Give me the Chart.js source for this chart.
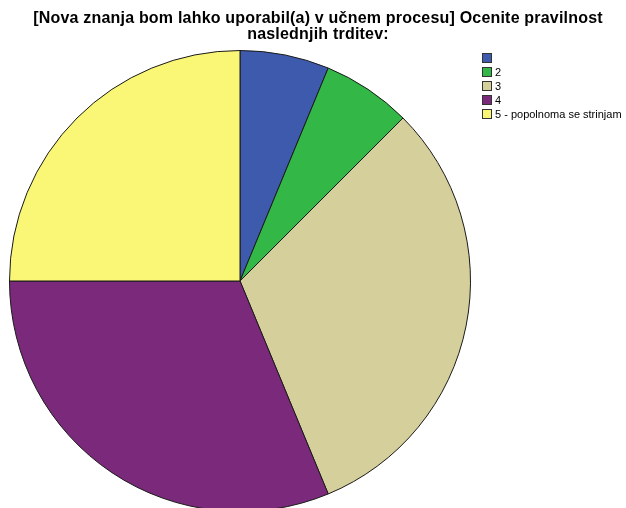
<!DOCTYPE html>
<html>
<head>
<meta charset="utf-8">
<script src="https://cdn.jsdelivr.net/npm/chart.js@4"></script>
<style>
  html, body { margin: 0; padding: 0; background: #fff; overflow: hidden; }
  #wrap { width: 626px; height: 520px; }
</style>
</head>
<body>
<div id="wrap"><canvas id="pie"></canvas></div>
<script>
// data (counts out of 16)
const categories = ['', '2', '3', '4', '5 - popolnoma se strinjam'];
const counts = [1, 1, 5, 5, 4];
const colors = ['#3E5AAD', '#33B848', '#D5CF9B', '#7B2A7B', '#FAF676'];
const titleLines = ['[Nova znanja bom lahko uporabil(a) v učnem procesu] Ocenite pravilnost', 'naslednjih trditev:'];

const FONT = '"Liberation Sans", Arial, sans-serif';

// title centred over the whole picture, not just the pie area
const pageTitle = {
  id: 'pageTitle',
  afterDraw(chart) {
    const ctx = chart.ctx;
    ctx.save();
    ctx.font = 'bold 16px ' + FONT;
    ctx.letterSpacing = '0.2px';
    ctx.fillStyle = '#000';
    ctx.textAlign = 'center';
    ctx.textBaseline = 'alphabetic';
    titleLines.forEach((line, i) => {
      ctx.fillText(line, 318, 23 + i * 16);
    });
    ctx.restore();
  }
};

// small legend in the top right corner, like the original
const cornerLegend = {
  id: 'cornerLegend',
  afterDraw(chart) {
    const ctx = chart.ctx;
    const ds = chart.data.datasets[0];
    ctx.save();
    ctx.font = '11px ' + FONT;
    ctx.textBaseline = 'middle';
    chart.data.labels.forEach((lbl, i) => {
      const y = 53 + i * 14;
      ctx.fillStyle = ds.backgroundColor[i];
      ctx.fillRect(482, y, 10, 10);
      ctx.strokeStyle = '#333';
      ctx.lineWidth = 1;
      ctx.strokeRect(482.5, y + 0.5, 9, 9);
      ctx.fillStyle = '#000';
      ctx.fillText(lbl, 495, y + 5.5);
    });
    ctx.restore();
  }
};

new Chart(document.getElementById('pie'), {
  type: 'pie',
  data: {
    labels: categories,
    datasets: [{
      data: counts,
      backgroundColor: colors,
      borderColor: '#1a1a1a',
      borderWidth: 1
    }]
  },
  options: {
    responsive: true,
    maintainAspectRatio: false,
    animation: false,
    layout: { padding: { left: 9, right: 155, top: 50, bottom: 8 } },
    plugins: {
      legend: { display: false },
      tooltip: { enabled: false },
      title: { display: false }
    }
  },
  plugins: [pageTitle, cornerLegend]
});
</script>
</body>
</html>
